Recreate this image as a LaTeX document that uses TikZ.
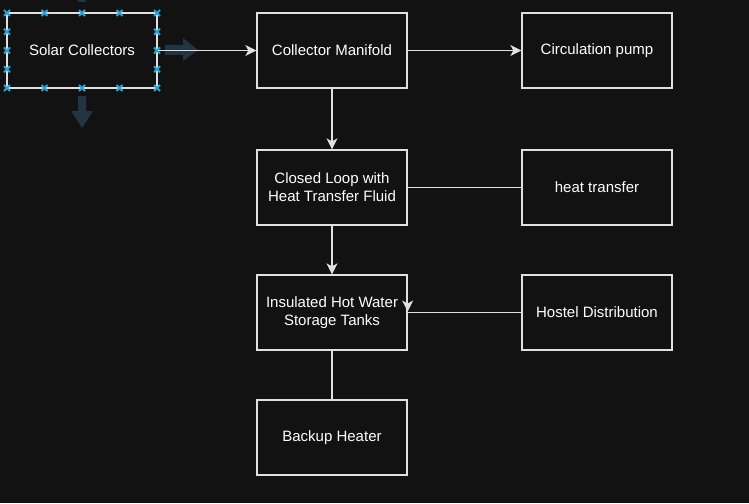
\documentclass[tikz,border=0pt]{standalone}
\usepackage{fontspec}
\setmainfont{Liberation Sans}
\usetikzlibrary{arrows.meta,calc}
\definecolor{bg}{HTML}{121212}
\definecolor{edge}{HTML}{E0E0E0}
\definecolor{hover}{HTML}{22343F}
\definecolor{handle}{HTML}{29A3D8}
\begin{document}
\begin{tikzpicture}[x=1pt,y=-1pt,
  box/.style={draw=edge, fill=bg, line width=1.3pt, minimum width=150pt, minimum height=75pt,
    text=white, align=center, font=\fontsize{15pt}{18pt}\selectfont, inner sep=0pt},
  conn/.style={draw=edge, line width=1.3pt},
  arr/.style={conn, -{Stealth[length=11pt,width=11pt,inset=3pt]}},
  hoverarrow/.style={fill=hover, draw=none}]
\fill[bg] (0,0) rectangle (749,503);
\useasboundingbox (0,0) rectangle (749,503);

% hover arrows
\fill[hover] (78,-10) rectangle (86,2);
\fill[hover] (165,45) -- (183,45) -- (183,38) -- (198,50) -- (183,61) -- (183,55) -- (165,55) -- cycle;
\fill[hover] (78,96) -- (86,96) -- (86,111) -- (93,111) -- (82,128) -- (71,111) -- (78,111) -- cycle;

\node[box] (solar) at (82,50.5) {Solar Collectors};
\node[box] (manifold) at (332,50.5) {Collector Manifold};
\node[box] (pump) at (597,50.5) {Circulation pump};
\node[box] (loop) at (332,187.5) {Closed Loop with\\Heat Transfer Fluid};
\node[box] (heat) at (597,187.5) {heat transfer};
\node[box] (tank) at (332,312.5) {Insulated Hot Water\\Storage Tanks};
\node[box] (hostel) at (597,312.5) {Hostel Distribution};
\node[box] (backup) at (332,437.5) {Backup Heater};

% selection handles
\foreach \px in {7,44.5,82,119.5,157} {
  \foreach \py in {13,88} {
    \draw[handle, line width=1.8pt] (\px-3,\py-3) -- (\px+3,\py+3) (\px-3,\py+3) -- (\px+3,\py-3);
  }
}
\foreach \py in {31.75,50.5,69.25} {
  \foreach \px in {7,157} {
    \draw[handle, line width=1.8pt] (\px-3,\py-3) -- (\px+3,\py+3) (\px-3,\py+3) -- (\px+3,\py-3);
  }
}

\draw[arr] (solar.east) -- (manifold.west);
\draw[arr] (manifold.east) -- (pump.west);
\draw[arr] (manifold.south) -- (loop.north);
\draw[conn] (loop.east) -- (heat.west);
\draw[arr] (loop.south) -- (tank.north);
\draw[conn] (hostel.west) -- (tank.east);
\draw[arr] ($(tank.east)+(0,-12)$) -- ($(tank.east)+(0,-1)$);
\draw[conn] (tank.south) -- (backup.north);
\end{tikzpicture}
\end{document}
